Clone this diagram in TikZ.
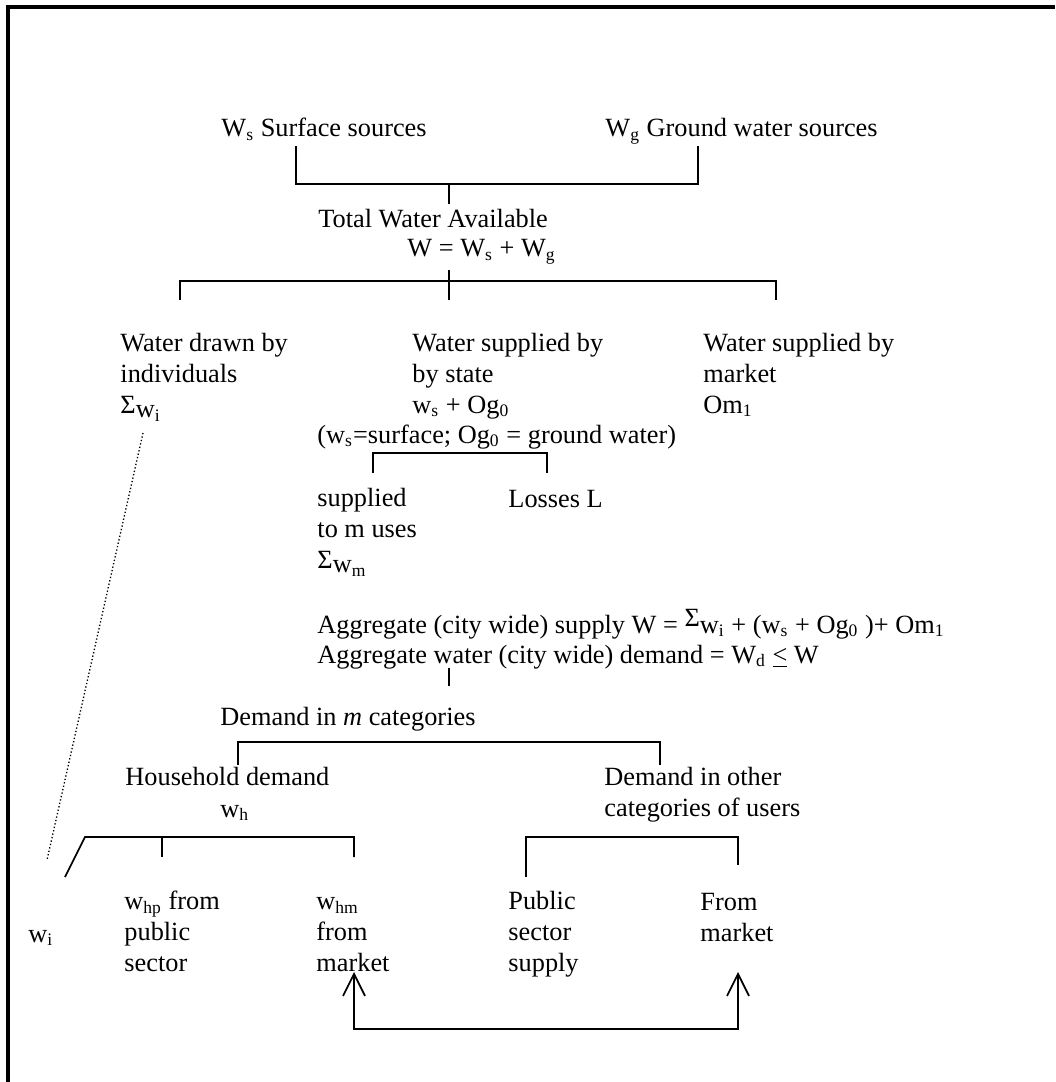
\documentclass[tikz,border=0pt]{standalone}
\usepackage{fontspec}
\setmainfont{Liberation Serif}
\usetikzlibrary{arrows.meta}

\begin{document}
\begin{tikzpicture}[x=0.456pt, y=-0.456pt,
  lbl/.style={anchor=base west, inner sep=0pt, align=left, font=\fontsize{12}{14}\selectfont},
  conn/.style={line width=0.8pt},
  both/.style={conn, {Straight Barb[length=10pt,width=10pt]}-{Straight Barb[length=10pt,width=10pt]}}]
\useasboundingbox (0,0) rectangle (1055,1082);
% frame
\draw[line width=1.4pt] (8,1082) -- (8,7) -- (1055,7);

% sources and total (multi-line nodes sit on their last line)
\node[lbl] (surf) at (221,137) {W\textsubscript{s} Surface sources};
\node[lbl] (ground) at (605,137) {W\textsubscript{g} Ground water sources};
\node[lbl] (total) at (318,228) {Total Water Available};
\node[lbl] (wsum) at (407,257) {W = W\textsubscript{s} + W\textsubscript{g}};

% three ways of getting water
\node[lbl] (indiv) at (120,413) {Water drawn by\\individuals\\Σ\raisebox{-0.35ex}{w\textsubscript{i}}};
\node[lbl] (state) at (412,413) {Water supplied by\\by state\\w\textsubscript{s} + Og\textsubscript{0}};
\node[lbl] (market) at (703,413) {Water supplied by\\market\\Om\textsubscript{1}};
\node[lbl] (note) at (317,443) {(w\textsubscript{s}=surface; Og\textsubscript{0} = ground water)};
\node[lbl] (uses) at (317,568) {supplied\\to m uses\\Σ\raisebox{-0.35ex}{w\textsubscript{m}}};
\node[lbl] (loss) at (508,507) {Losses L};

% aggregates
\node[lbl] (aggs) at (317,633) {Aggregate (city wide) supply W = \raisebox{0.5ex}{Σ}w\textsubscript{i} + (w\textsubscript{s} + Og\textsubscript{0} )+ Om\textsubscript{1}};
\node[lbl] (aggd) at (317,663) {Aggregate water (city wide) demand = W\textsubscript{d} \underline{<} W};

% demand
\node[lbl] (mcat) at (220,725) {Demand in \textit{m} categories};
\node[lbl] (house) at (125,785) {Household demand};
\node[lbl] (wh) at (220,817) {w\textsubscript{h}};
\node[lbl] (other) at (604,816) {Demand in other\\categories of users};
\node[lbl] (wi) at (28,942) {w\textsubscript{i}};
\node[lbl] (hp) at (124,971) {w\textsubscript{hp} from\\public\\sector};
\node[lbl] (hm) at (316,971) {w\textsubscript{hm}\\from\\market};
\node[lbl] (pub) at (508,971) {Public\\sector\\supply};
\node[lbl] (frm) at (700,941) {From\\market};

% bracket points
\coordinate (b1l) at (296,146);
\coordinate (b1r) at (698,146);
\coordinate (b1m) at (449,184);
\coordinate (b1t) at (449,204);
\coordinate (b2l) at (180,300);
\coordinate (b2r) at (776,300);
\coordinate (b2m) at (449,281);
\coordinate (b2a) at (449,270);
\coordinate (b2b) at (449,300);
\coordinate (b3l) at (373,473);
\coordinate (b3r) at (547,473);
\coordinate (b3m) at (460,453);
\coordinate (agga) at (449,668);
\coordinate (aggb) at (449,686);
\coordinate (b4l) at (238,765);
\coordinate (b4r) at (660,765);
\coordinate (b4m) at (449,742);
\coordinate (b5s) at (65,877);
\coordinate (b5l) at (85,837);
\coordinate (b5m) at (162,837);
\coordinate (b5t) at (162,857);
\coordinate (b5r) at (354,857);
\coordinate (b6l) at (526,877);
\coordinate (b6r) at (738,865);
\coordinate (b6m) at (632,837);
\coordinate (dota) at (143,433);
\coordinate (dotb) at (47,860);
\coordinate (hmtip) at (354,972);
\coordinate (frtip) at (738,972);
\coordinate (loop) at (546,1029);

% connectors
\draw[conn] (b1l) |- (b1m) -| (b1r);
\draw[conn] (b1m) -- (b1t);
\draw[conn] (b2l) |- (b2m) -| (b2r);
\draw[conn] (b2a) -- (b2b);
\draw[conn] (b3l) |- (b3m) -| (b3r);
\draw[conn] (agga) -- (aggb);
\draw[conn] (b4l) |- (b4m) -| (b4r);
\draw[conn] (b5s) -- (b5l) -| (b5r);
\draw[conn] (b5m) -- (b5t);
\draw[conn] (b6l) |- (b6m) -| (b6r);
\draw[densely dotted, line width=0.6pt] (dota) -- (dotb);
\draw[both] (hmtip) |- (loop) -| (frtip);
\end{tikzpicture}
\end{document}
